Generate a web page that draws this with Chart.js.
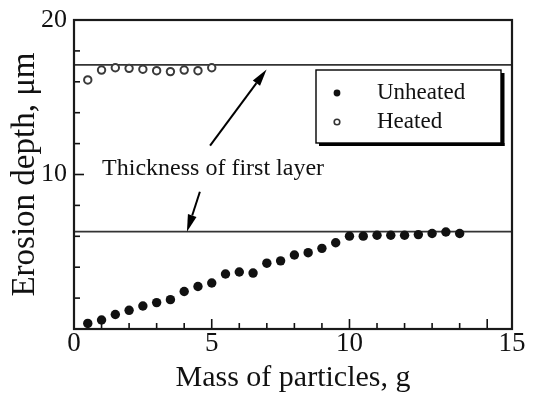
<!DOCTYPE html>
<html><head><meta charset="utf-8">
<script src="https://cdn.jsdelivr.net/npm/chart.js@4.4.0/dist/chart.umd.min.js"></script>
<style>html,body{margin:0;padding:0;background:#fff;}canvas{display:block;}</style>
</head><body>
<canvas id="c" width="535" height="401"></canvas>
<script>
// ---- data ----
const unheatedMass  = [0.5,1.0,1.5,2.0,2.5,3.0,3.5,4.0,4.5,5.0,5.5,6.0,6.5,7.0,7.5,8.0,8.5,9.0,9.5,10.0,10.5,11.0,11.5,12.0,12.5,13.0,13.5,14.0];
const unheatedDepth = [0.36,0.58,0.94,1.21,1.49,1.71,1.90,2.43,2.75,2.98,3.56,3.69,3.62,4.26,4.41,4.79,4.94,5.22,5.58,6.01,6.01,6.07,6.07,6.07,6.11,6.18,6.28,6.18];
const heatedMass    = [0.5,1.0,1.5,2.0,2.5,3.0,3.5,4.0,4.5,5.0];
const heatedDepth   = [16.12,16.76,16.91,16.87,16.81,16.72,16.66,16.76,16.72,16.91];
const layerThickness = [6.3, 17.1];           // "Thickness of first layer" lines
const xTickValues = [0, 5, 10, 15.9];
const xTickLabels = ['0', '5', '10', '15'];
const yTickValues = [10, 20];
const yTickLabels = ['10', '20'];
const X_MIN = 0, X_MAX = 15.9, Y_MIN = 0, Y_MAX = 20;

const SERIF = "'Liberation Serif', 'DejaVu Serif', serif";

const pts = (xs, ys) => xs.map((x, i) => ({x, y: ys[i]}));

// inward ticks, frame, legend and annotations
const decor = {
  id: 'decor',
  afterDatasetsDraw(chart) {
    const {ctx, chartArea: a, scales: {x, y}} = chart;
    ctx.save();
    ctx.strokeStyle = '#111';
    ctx.lineWidth = 1.6;
    for (let v = 0; v <= 15; v++) {
      const px = x.getPixelForValue(v);
      const len = v % 5 === 0 ? 10 : 6;
      ctx.beginPath(); ctx.moveTo(px, a.bottom); ctx.lineTo(px, a.bottom - len); ctx.stroke();
    }
    for (let v = 0; v <= 20; v += 2) {
      const py = y.getPixelForValue(v);
      const len = v % 10 === 0 ? 10 : 6;
      ctx.beginPath(); ctx.moveTo(a.left, py); ctx.lineTo(a.left + len, py); ctx.stroke();
    }
    ctx.lineWidth = 2.2;
    ctx.strokeStyle = '#1a1a1a';
    ctx.strokeRect(a.left, a.top, a.right - a.left, a.bottom - a.top);

    // legend box
    const lx = a.right - 196, ly = a.top + 50, lw = 185, lh = 73;
    ctx.fillStyle = '#000';
    ctx.fillRect(lx + lw, ly + 3, 3.5, lh);
    ctx.fillRect(lx + 3, ly + lh, lw + 0.5, 3);
    ctx.fillStyle = '#fff';
    ctx.fillRect(lx, ly, lw, lh);
    ctx.lineWidth = 1.4; ctx.strokeStyle = '#000';
    ctx.strokeRect(lx, ly, lw, lh);
    ctx.fillStyle = '#111';
    ctx.beginPath(); ctx.arc(lx + 21, ly + 23, 3.4, 0, Math.PI * 2); ctx.fill();
    ctx.strokeStyle = '#333'; ctx.lineWidth = 1.6;
    ctx.beginPath(); ctx.arc(lx + 21, ly + 52, 2.8, 0, Math.PI * 2); ctx.stroke();
    ctx.fillStyle = '#111';
    ctx.font = '23px ' + SERIF;
    ctx.textAlign = 'left'; ctx.textBaseline = 'middle';
    ctx.fillText('Unheated', lx + 61, ly + 23);
    ctx.fillText('Heated', lx + 61, ly + 52);

    // annotation text
    ctx.font = '24px ' + SERIF;
    ctx.textBaseline = 'alphabetic';
    ctx.fillText('Thickness of first layer', x.getPixelForValue(1.02), y.getPixelForValue(10.0));

    // arrows
    const arrow = (x0, y0, x1, y1) => {
      const p0x = x.getPixelForValue(x0), p0y = y.getPixelForValue(y0);
      const p1x = x.getPixelForValue(x1), p1y = y.getPixelForValue(y1);
      const ang = Math.atan2(p1y - p0y, p1x - p0x);
      const hl = 17, hw = 4.5;
      const bx = p1x - hl * Math.cos(ang), by = p1y - hl * Math.sin(ang);
      ctx.strokeStyle = '#000'; ctx.lineWidth = 2;
      ctx.beginPath(); ctx.moveTo(p0x, p0y); ctx.lineTo(bx, by); ctx.stroke();
      ctx.fillStyle = '#000';
      ctx.beginPath();
      ctx.moveTo(p1x, p1y);
      ctx.lineTo(bx + hw * Math.sin(ang), by - hw * Math.cos(ang));
      ctx.lineTo(bx - hw * Math.sin(ang), by + hw * Math.cos(ang));
      ctx.closePath(); ctx.fill();
    };
    arrow(4.94, 11.87, 6.99, 16.8);
    arrow(4.57, 8.88, 4.10, 6.3);
    ctx.restore();
  }
};

new Chart(document.getElementById('c'), {
  type: 'scatter',
  data: {
    datasets: [
      ...layerThickness.map(v => ({
        type: 'line', label: 'layer', data: [{x: X_MIN, y: v}, {x: X_MAX, y: v}],
        borderColor: '#333', borderWidth: 1.8, pointRadius: 0, order: 3
      })),
      { label: 'Unheated', data: pts(unheatedMass, unheatedDepth),
        pointRadius: 4.7, pointBackgroundColor: '#111', pointBorderWidth: 0, borderWidth: 0, order: 1 },
      { label: 'Heated', data: pts(heatedMass, heatedDepth),
        pointRadius: 3.7, pointBackgroundColor: '#fff', pointBorderColor: '#3a3a3a', pointBorderWidth: 2, order: 1 }
    ]
  },
  options: {
    responsive: false, animation: false, devicePixelRatio: 1,
    layout: { padding: { top: 16, right: 23, left: 0, bottom: 0 } },
    plugins: { legend: { display: false }, tooltip: { enabled: false } },
    scales: {
      x: {
        type: 'linear', min: X_MIN, max: X_MAX,
        grid: { display: false, drawTicks: false, tickLength: 0 }, border: { display: false },
        afterBuildTicks: s => { s.ticks = xTickValues.map(v => ({value: v})); },
        afterFit: s => { s.height = 72; },
        ticks: { autoSkip: false, maxRotation: 0, padding: 1, color: '#111',
          font: { family: SERIF, size: 27, lineHeight: 1 },
          callback: (v, i) => xTickLabels[i] },
        title: { display: true, text: 'Mass of particles, g', color: '#111',
          font: { family: SERIF, size: 30 }, padding: { top: 0, bottom: 5 } }
      },
      y: {
        type: 'linear', min: Y_MIN, max: Y_MAX,
        grid: { display: false, drawTicks: false, tickLength: 0 }, border: { display: false },
        afterBuildTicks: s => { s.ticks = yTickValues.map(v => ({value: v})); },
        afterFit: s => { s.width = 74; },
        ticks: { autoSkip: false, padding: 7, color: '#111',
          font: { family: SERIF, size: 26, lineHeight: 1 },
          callback: (v, i) => yTickLabels[i] },
        title: { display: true, text: 'Erosion depth, μm', color: '#111',
          font: { family: SERIF, size: 33 }, padding: { top: 6, bottom: 0 } }
      }
    }
  },
  plugins: [decor]
});
</script>
</body></html>
